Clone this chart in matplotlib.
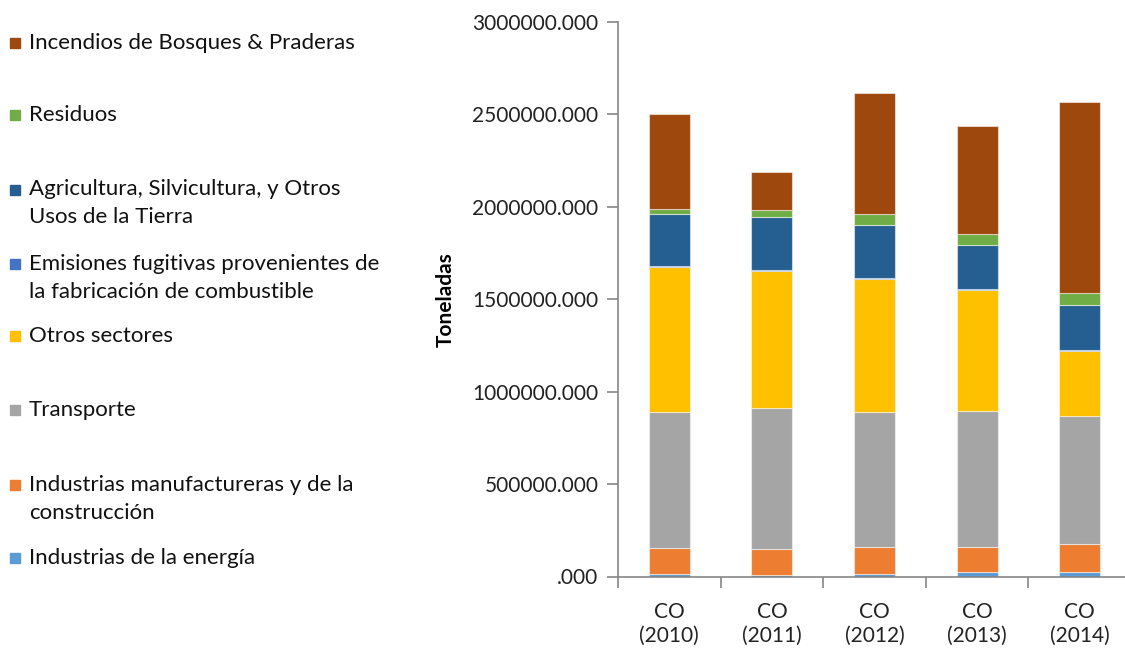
import numpy as np
import matplotlib.pyplot as plt
from matplotlib.ticker import FuncFormatter, FixedLocator

plt.rcParams['font.family'] = ['Lato', 'DejaVu Sans']

categories = ['CO\n(2010)', 'CO\n(2011)', 'CO\n(2012)', 'CO\n(2013)', 'CO\n(2014)']

# series, bottom to top of each stack
energia = [15000, 10000, 15000, 22000, 27000]
manufactura = [138000, 140000, 144000, 137000, 147000]
transporte = [735000, 759000, 732000, 737000, 697000]
otros = [787000, 744000, 719000, 656000, 349000]
fugitivas = [4000, 4000, 4000, 4000, 4000]
agricultura = [284000, 288000, 288000, 240000, 245000]
residuos = [25000, 36000, 58000, 57000, 63000]
incendios = [516000, 205000, 657000, 586000, 1033000]

series = [
    ("Industrias de la energía", energia, "#5B9BD5"),
    ("Industrias manufactureras y de la\nconstrucción", manufactura, "#ED7D31"),
    ("Transporte", transporte, "#A5A5A5"),
    ("Otros sectores", otros, "#FFC000"),
    ("Emisiones fugitivas provenientes de\nla fabricación de combustible", fugitivas, "#4472C4"),
    ("Agricultura, Silvicultura, y Otros\nUsos de la Tierra", agricultura, "#255E91"),
    ("Residuos", residuos, "#70AD47"),
    ("Incendios de Bosques & Praderas", incendios, "#9E480E"),
]

fig = plt.figure(figsize=(11.25, 6.5), dpi=100)
ax = fig.add_axes([618 / 1125, 73.5 / 650, 513 / 1125, 554.5 / 650])

x = np.arange(len(categories))
bottom = np.zeros(len(categories))
for label, vals, color in series:
    ax.bar(x, vals, width=0.4, bottom=bottom, color=color,
           edgecolor=(1, 1, 1, 0.5), linewidth=0.8)
    bottom += np.array(vals)

ax.set_xlim(-0.5, 4.5)
ax.set_ylim(0, 3000000)
ax.set_yticks(np.arange(0, 3000001, 500000))
ax.yaxis.set_major_formatter(FuncFormatter(lambda v, p: ".000" if v == 0 else f"{int(v)}.000"))
ax.set_xticks(x)
ax.set_xticklabels(categories, linespacing=1.25)
ax.xaxis.set_minor_locator(FixedLocator(np.arange(-0.5, 5, 1.0)))
ax.tick_params(axis='x', which='major', length=0, pad=18, labelsize=15, colors='#222222')
ax.tick_params(axis='x', which='minor', length=8, color='#868686', width=1.2)
ax.tick_params(axis='y', length=8, color='#868686', width=1.2, labelsize=15,
               labelcolor='#222222', pad=6)

for s in ['top', 'right']:
    ax.spines[s].set_visible(False)
for s in ['left', 'bottom']:
    ax.spines[s].set_color('#868686')
    ax.spines[s].set_linewidth(1.2)

ax.set_ylabel("Toneladas", fontsize=15, fontweight='bold', labelpad=12)

# legend drawn by hand on the left: (first-line y, text centre y) in pixels from top
legend_pos = [(43, 43), (115, 115), (190, 203), (264, 278),
              (336, 336), (410, 410), (485, 499), (558, 558)]
for (label, vals, color), (ym, yt) in zip(reversed(series), legend_pos):
    fig.patches.append(plt.Rectangle((10 / 1125, 1 - (ym + 5) / 650), 10 / 1125, 10 / 650,
                                     transform=fig.transFigure, color=color))
    fig.text(29 / 1125, 1 - yt / 650, label, fontsize=16, va='center', ha='left',
             color='#111111', linespacing=1.45)

fig.savefig("out.png", dpi=100)
